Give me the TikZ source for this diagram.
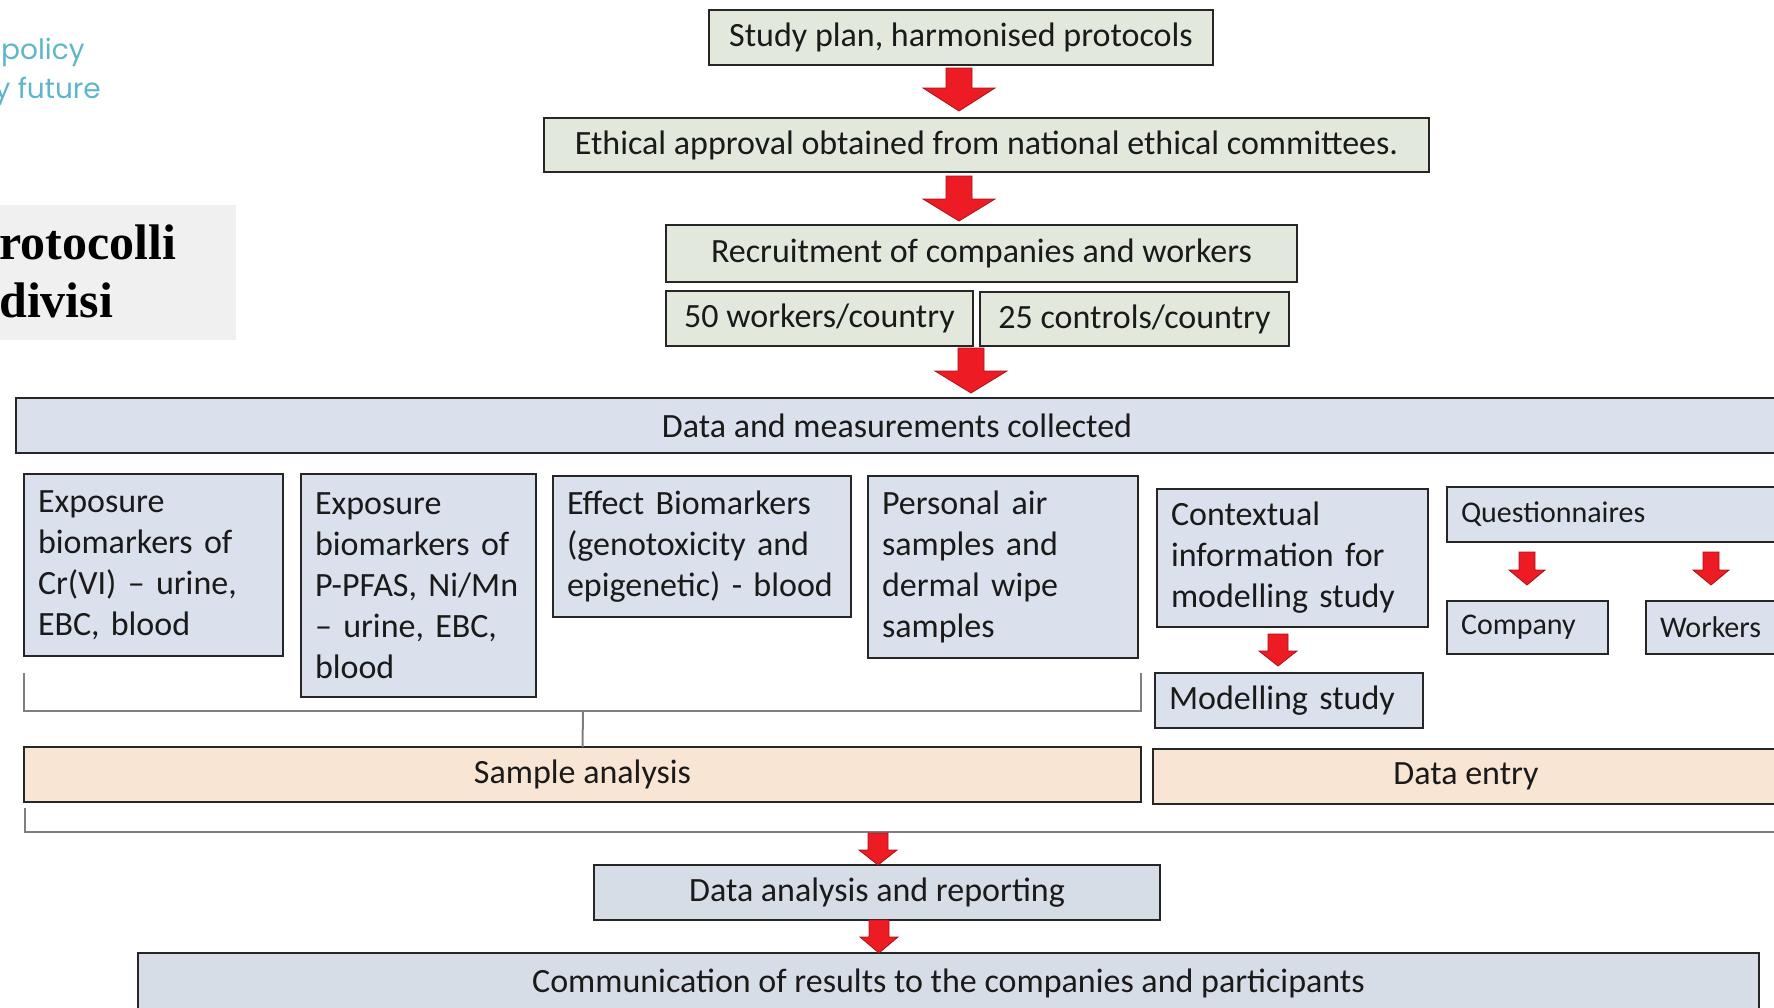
\documentclass[tikz,border=0pt]{standalone}
\usepackage{fontspec}
\setmainfont{Carlito}
\newfontfamily\logofont{Poppins}
\newfontfamily\titlefont{Liberation Serif}
\usetikzlibrary{calc}
\definecolor{edgec}{HTML}{262626}
\definecolor{greenc}{HTML}{E2E9DC}
\definecolor{bluec}{HTML}{DAE1EC}
\definecolor{bluectwo}{HTML}{D7DDE6}
\definecolor{peachc}{HTML}{F9E5D3}
\definecolor{arrred}{HTML}{ED1C24}
\definecolor{arredge}{HTML}{A81218}
\definecolor{logoc}{HTML}{5DB6C9}
\definecolor{graybg}{HTML}{F0F0F0}
\definecolor{textc}{HTML}{1A1A1A}
\definecolor{brc}{HTML}{7F7F7F}
\newcommand\bodyfs{\fontsize{34}{41}\selectfont}
\newcommand\smallfs{\fontsize{30}{36}\selectfont}
\newcommand\blockarr[6]{\filldraw[arr] (#1-#4,#2) -- (#1+#4,#2) -- (#1+#4,#3-#6) -- (#1+#5,#3-#6) -- (#1,#3) -- (#1-#5,#3-#6) -- (#1-#4,#3-#6) -- cycle;}
\begin{document}
\begin{tikzpicture}[x=1pt,y=-1pt,
 box/.style={draw=edgec, line width=1.8pt, inner sep=0pt, outer sep=0pt, anchor=north west, font=\bodyfs, text=textc},
 lbox/.style={box, align=left, inner xsep=14pt},
 cbox/.style={box, align=center},
 bracket/.style={draw=brc, line width=2pt},
 arr/.style={fill=arrred, draw=arredge, line width=0.8pt, line join=miter}]
\useasboundingbox (0,0) rectangle (1774,1007);

% logo and title fragments
\node[anchor=base west, font=\logofont\fontsize{28}{33}\selectfont, text=logoc, inner sep=0pt] (logoa) at (1,59) {policy};
\node[anchor=base east, font=\logofont\fontsize{28}{33}\selectfont, text=logoc, inner sep=0pt] (logob) at (101,98) {y future};
\node[fill=graybg, anchor=north west, minimum width=236, minimum height=135, inner sep=0pt] (titlebg) at (0,205) {};
\node[anchor=base west, font=\titlefont\bfseries\fontsize{50}{58}\selectfont, inner sep=0pt] (ta) at (-1,259) {rotocolli};
\node[anchor=base west, font=\titlefont\bfseries\fontsize{50}{58}\selectfont, inner sep=0pt] (tb) at (-1,317) {divisi};

% top chain
\node[cbox, fill=greenc, minimum width=504, minimum height=55] (plan) at (709,10) {Study plan, harmonised protocols};
\node[cbox, fill=greenc, minimum width=885, minimum height=54] (ethic) at (544,118) {Ethical approval obtained from national ethical committees.};
\node[cbox, fill=greenc, minimum width=631, minimum height=57] (recruit) at (666,225) {Recruitment of companies and workers};
\node[cbox, fill=greenc, minimum width=307, minimum height=55] (wfifty) at (666,291) {50 workers/country};
\node[cbox, fill=greenc, minimum width=309, minimum height=54] (ctwenty) at (980,292) {25 controls/country};
\node[cbox, fill=bluec, minimum width=1762, minimum height=55] (data) at (16,398) {Data and measurements collected};

% measurement boxes
\node[lbox, fill=bluec, minimum height=182, text width=231] (cr) at (24,474) {Exposure\\biomarkers of\\Cr(VI) – urine,\\EBC, blood};
\node[lbox, fill=bluec, minimum height=223, text width=207] (pfas) at (301,474) {Exposure\\biomarkers of\\P-PFAS, Ni/Mn\\– urine, EBC,\\blood};
\node[lbox, fill=bluec, minimum height=141, text width=270] (effect) at (553,476) {Effect Biomarkers\\(genotoxicity and\\epigenetic) - blood};
\node[lbox, fill=bluec, minimum height=182, text width=242] (air) at (868,476) {Personal air\\samples and\\dermal wipe\\samples};
\node[lbox, fill=bluec, minimum height=138, text width=243] (context) at (1157,489) {Contextual\\information for\\modelling study};
\node[lbox, fill=bluec, minimum height=55, text width=312, font=\smallfs] (quest) at (1447,487) {Questionnaires};
\node[lbox, fill=bluec, minimum height=53, text width=133, font=\smallfs] (company) at (1447,601) {Company};
\node[lbox, fill=bluec, minimum height=53, text width=112, font=\smallfs] (workers) at (1646,601) {Workers};
\node[lbox, fill=bluec, minimum height=55, text width=240] (model) at (1155,673) {Modelling study};

% analysis
\node[cbox, fill=peachc, minimum width=1117, minimum height=55] (sample) at (24,747) {Sample analysis};
\node[cbox, fill=peachc, minimum width=626, minimum height=55] (entry) at (1153,749) {Data entry};
\node[cbox, fill=bluectwo, minimum width=566, minimum height=55] (report) at (594,865) {Data analysis and reporting};
\node[cbox, fill=bluectwo, minimum width=1621, minimum height=60] (comm) at (138,953) {Communication of results to the companies and participants};

% brackets
\coordinate (bl) at (24,673);
\coordinate (br) at (1141,673);
\coordinate (bmid) at (583,711);
\draw[bracket] (bl) -- (24,711) -- (1141,711) -- (br);
\draw[bracket] (bmid) -- (sample.north);
\coordinate (bb) at (25,808);
\coordinate (be) at (1774,832);
\draw[bracket] (bb) -- (25,832) -- (be);

% block arrows
\blockarr{959}{68}{111}{13}{36}{23}
\blockarr{959}{176}{221}{13}{36}{22}
\blockarr{971}{348}{393}{13}{36}{22}
\blockarr{1527}{552}{585}{8}{18}{15}
\blockarr{1711}{552}{585}{8}{18}{15}
\blockarr{1278}{634}{666}{10}{19}{15}
\blockarr{878}{833}{865}{10}{19}{15}
\blockarr{879}{920}{953}{10}{19}{16}
\end{tikzpicture}
\end{document}
